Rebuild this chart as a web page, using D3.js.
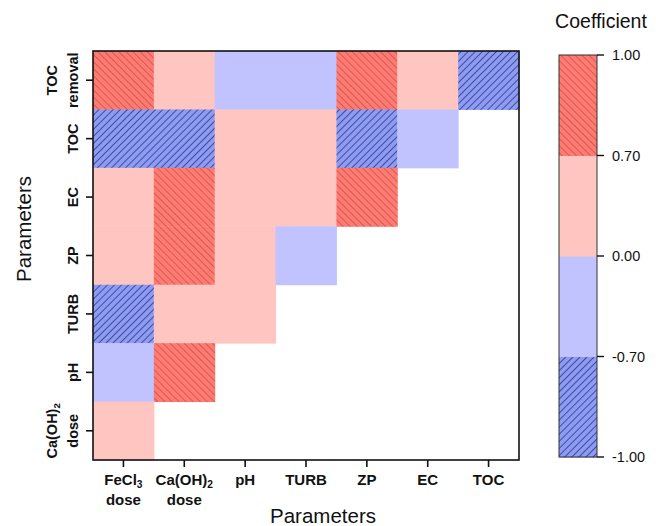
<!DOCTYPE html>
<html>
<head>
<meta charset="utf-8">
<script src="https://cdn.jsdelivr.net/npm/d3@7"></script>
<style>
  html, body { margin: 0; padding: 0; background: #fff; }
  svg { display: block; font-family: "Liberation Sans", Arial, sans-serif; }
</style>
</head>
<body>
<svg id="chart" width="656" height="526"></svg>
<script>
// Column parameters (left to right)
const colParams = ["FeCl3 dose", "Ca(OH)2 dose", "pH", "TURB", "ZP", "EC", "TOC"];
// Row parameters (top to bottom)
const rowParams = ["TOC removal", "TOC", "EC", "ZP", "TURB", "pH", "Ca(OH)2 dose"];

// Correlation coefficients, one array per row (lower triangle, left aligned)
const rowTOCremoval = [0.88, 0.42, -0.31, -0.27, 0.79, 0.36, -0.92];
const rowTOC        = [-0.84, -0.77, 0.21, 0.33, -0.81, -0.45];
const rowEC         = [0.52, 0.86, 0.18, 0.29, 0.74];
const rowZP         = [0.48, 0.91, 0.25, -0.38];
const rowTURB       = [-0.76, 0.44, 0.12];
const rowPH         = [-0.58, 0.83];
const rowCaDose     = [0.05];
const rows = [rowTOCremoval, rowTOC, rowEC, rowZP, rowTURB, rowPH, rowCaDose];

// Colour classes
const breaks = [-1.0, -0.7, 0.0, 0.7, 1.0];
const breakLabels = ["-1.00", "-0.70", "0.00", "0.70", "1.00"];
const classFills = ["url(#hatchBlue)", "#c0c3ff", "#ffc6c1", "url(#hatchRed)"];

const svg = d3.select("#chart");
const margin = { left: 93, top: 51, right: 519, bottom: 460 };

const x = d3.scaleBand().domain(colParams).range([margin.left, margin.right]).padding(0);
const y = d3.scaleBand().domain(rowParams).range([margin.top, margin.bottom]).padding(0);
const colorClass = d3.scaleThreshold().domain(breaks.slice(1, -1)).range(classFills);

// Hatch patterns
const defs = svg.append("defs");
function hatch(id, bg, line, angle) {
  const p = defs.append("pattern")
    .attr("id", id)
    .attr("patternUnits", "userSpaceOnUse")
    .attr("width", 5).attr("height", 5)
    .attr("patternTransform", `rotate(${angle})`);
  p.append("rect").attr("width", 5).attr("height", 5).attr("fill", bg);
  p.append("line").attr("x1", 0).attr("y1", 2.5).attr("x2", 5).attr("y2", 2.5)
    .attr("stroke", line).attr("stroke-width", 0.9);
}
hatch("hatchRed", "#ff7b71", "#cc5852", 45);
hatch("hatchBlue", "#8e9bf5", "#3a4488", -45);

// Cells
const cells = [];
rows.forEach((vals, ri) => vals.forEach((v, ci) => cells.push({ row: rowParams[ri], col: colParams[ci], v })));

svg.append("g").selectAll("rect")
  .data(cells)
  .join("rect")
  .attr("x", d => x(d.col))
  .attr("y", d => y(d.row))
  .attr("width", x.bandwidth() + 0.5)
  .attr("height", y.bandwidth() + 0.5)
  .attr("fill", d => colorClass(d.v));

// Frame
svg.append("rect")
  .attr("x", margin.left).attr("y", margin.top)
  .attr("width", margin.right - margin.left).attr("height", margin.bottom - margin.top)
  .attr("fill", "none").attr("stroke", "#111").attr("stroke-width", 1.6);

// Label writer with subscript support ("Ca(OH)2" / "FeCl3")
function writeLabel(t, s) {
  const m = s.match(/^(.*?)(\d)$/);
  if (m) {
    t.append("tspan").text(m[1]);
    t.append("tspan").attr("font-size", "0.68em").attr("dy", "0.3em").text(m[2]);
  } else {
    t.text(s);
  }
}
function splitLabel(s) {
  const i = s.indexOf(" ");
  return i < 0 ? [s] : [s.slice(0, i), s.slice(i + 1)];
}

// Bottom axis
const xAxis = svg.append("g");
xAxis.selectAll("line").data(colParams).join("line")
  .attr("x1", d => x(d) + x.bandwidth() / 2).attr("x2", d => x(d) + x.bandwidth() / 2)
  .attr("y1", margin.bottom).attr("y2", margin.bottom + 7)
  .attr("stroke", "#111").attr("stroke-width", 1.6);
colParams.forEach(c => {
  splitLabel(c).forEach((ln, i) => {
    const t = xAxis.append("text")
      .attr("x", x(c) + x.bandwidth() / 2)
      .attr("y", 485 + i * 20)
      .attr("text-anchor", "middle")
      .attr("font-weight", "bold").attr("font-size", 15).attr("fill", "#111");
    writeLabel(t, ln);
  });
});

// Left axis
const yAxis = svg.append("g");
yAxis.selectAll("line").data(rowParams).join("line")
  .attr("x1", margin.left - 7).attr("x2", margin.left)
  .attr("y1", d => y(d) + y.bandwidth() / 2).attr("y2", d => y(d) + y.bandwidth() / 2)
  .attr("stroke", "#111").attr("stroke-width", 1.6);
rowParams.forEach(r => {
  const lines = splitLabel(r);
  lines.forEach((ln, i) => {
    const bx = 78 - (lines.length - 1 - i) * 21;
    const cy = y(r) + y.bandwidth() / 2;
    const t = yAxis.append("text")
      .attr("transform", `translate(${bx},${cy}) rotate(-90)`)
      .attr("text-anchor", "middle")
      .attr("font-weight", "bold").attr("font-size", 14.5).attr("fill", "#111");
    writeLabel(t, ln);
  });
});

// Axis titles
svg.append("text").attr("x", 323).attr("y", 523).attr("text-anchor", "middle")
  .attr("font-size", 20.5).attr("fill", "#111").text("Parameters");
svg.append("text").attr("transform", "translate(31,229) rotate(-90)").attr("text-anchor", "middle")
  .attr("font-size", 20.5).attr("fill", "#111").text("Parameters");

// Colour bar
const cb = svg.append("g");
const cbX = 559, cbW = 38;
const cbY = d3.scalePoint().domain(d3.range(breaks.length)).range([457, 55]);
const bands = d3.range(breaks.length - 1);
cb.selectAll("rect.band").data(bands).join("rect")
  .attr("class", "band")
  .attr("x", cbX).attr("width", cbW)
  .attr("y", i => cbY(i + 1)).attr("height", i => cbY(i) - cbY(i + 1) + 0.5)
  .attr("fill", i => classFills[i]);
cb.append("rect").attr("x", cbX).attr("y", 55).attr("width", cbW).attr("height", 402)
  .attr("fill", "none").attr("stroke", "#333").attr("stroke-width", 1);
cb.selectAll("line.tick").data(d3.range(breaks.length)).join("line")
  .attr("class", "tick")
  .attr("x1", cbX + cbW).attr("x2", cbX + cbW + 7)
  .attr("y1", i => cbY(i)).attr("y2", i => cbY(i))
  .attr("stroke", "#111").attr("stroke-width", 1.4);
cb.selectAll("text.tl").data(d3.range(breaks.length)).join("text")
  .attr("class", "tl")
  .attr("x", 612).attr("y", i => cbY(i)).attr("dy", "0.36em")
  .attr("font-size", 14.5).attr("fill", "#111")
  .text(i => breakLabels[i]);
svg.append("text").attr("x", 601).attr("y", 28).attr("text-anchor", "middle")
  .attr("font-size", 19.5).attr("fill", "#111").text("Coefficient");
</script>
</body>
</html>
